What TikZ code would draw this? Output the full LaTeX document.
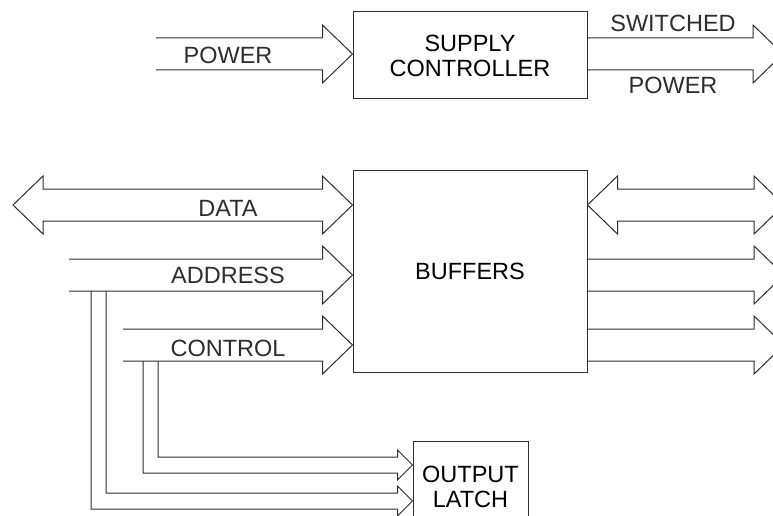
\documentclass[tikz,border=0pt]{standalone}
\usepackage{fontspec}
\setmainfont{Liberation Sans}
\usetikzlibrary{calc}
\definecolor{ink}{RGB}{45,45,45}

% wide bus arrow: open tail #1, tip #2 (both on the centre line)
\newcommand{\busR}[2]{%
  \draw[bus] ($(#1)+(0,-16)$) -- ($(#2)+(-30,-16)$) -- ($(#2)+(-30,-29)$) -- (#2)
    -- ($(#2)+(-30,29)$) -- ($(#2)+(-30,16)$) -- ($(#1)+(0,16)$);}
% wide bus arrow with heads at both ends
\newcommand{\busLR}[2]{%
  \draw[bus] (#1) -- ($(#1)+(30,-29)$) -- ($(#1)+(30,-16)$) -- ($(#2)+(-30,-16)$)
    -- ($(#2)+(-30,-29)$) -- (#2) -- ($(#2)+(-30,29)$) -- ($(#2)+(-30,16)$)
    -- ($(#1)+(30,16)$) -- ($(#1)+(30,29)$) -- cycle;}

\begin{document}
\begin{tikzpicture}[x=1pt,y=-1pt,font=\fontsize{23.5}{25}\selectfont,
  bus/.style={draw=ink,line width=1pt,line join=miter},
  blk/.style={draw=ink,line width=1pt,align=center,inner sep=0pt},
  lbl/.style={inner sep=0pt,text=ink}]
  \useasboundingbox (0,0) rectangle (773,516);
  \clip (0,0) rectangle (773,516);

  % blocks
  \node[blk,minimum width=234pt,minimum height=87pt] (supply) at (470,55.5) {SUPPLY\\CONTROLLER};
  \node[blk,minimum width=234pt,minimum height=202pt] (buf) at (470,271) {BUFFERS};
  \node[blk,minimum width=115pt,minimum height=91pt] (latch) at (470.5,486.5) {OUTPUT\\LATCH};

  % ends of the buses
  \coordinate (pwrT) at (156,54);
  \coordinate (pwrH) at (supply.west |- pwrT);
  \coordinate (swT) at (supply.east |- pwrT);
  \coordinate (swH) at (783,54);
  \coordinate (dataL) at (13,205);
  \coordinate (dataR) at (buf.west |- dataL);
  \coordinate (adrT) at (69,275);
  \coordinate (adrH) at (buf.west |- adrT);
  \coordinate (ctlT) at (123,345);
  \coordinate (ctlH) at (buf.west |- ctlT);
  \coordinate (bdL) at (buf.east |- dataL);
  \coordinate (bdR) at (784,205);
  \coordinate (oAT) at (buf.east |- adrT);
  \coordinate (oAH) at (784,275);
  \coordinate (oCT) at (buf.east |- ctlT);
  \coordinate (oCH) at (784,345);

  \busR{pwrT}{pwrH}
  \busR{swT}{swH}
  \busLR{dataL}{dataR}
  \busR{adrT}{adrH}
  \busR{ctlT}{ctlH}
  \busLR{bdL}{bdR}
  \busR{oAT}{oAH}
  \busR{oCT}{oCH}

  % taps down to the output latch
  \coordinate (ltA) at (latch.west |- 0,501);
  \coordinate (ltC) at (latch.west |- 0,465);
  \draw[bus] (91,291) |- ($(ltA)+(-15,8)$) -- ($(ltA)+(-15,15)$) -- (ltA)
    -- ($(ltA)+(-15,-15)$) -- ($(ltA)+(-15,-8)$) -| (106,291);
  \draw[bus] (143,361) |- ($(ltC)+(-15,8)$) -- ($(ltC)+(-15,15)$) -- (ltC)
    -- ($(ltC)+(-15,-15)$) -- ($(ltC)+(-15,-8)$) -| (158,361);

  % labels
  \node[lbl] (pwrlbl) at (228,55) {POWER};
  \node[lbl] (swlbl) at (673,23) {SWITCHED};
  \node[lbl] (swlbl2) at (673,85) {POWER};
  \node[lbl] (datalbl) at (228,208) {DATA};
  \node[lbl] (adrlbl) at (228,275) {ADDRESS};
  \node[lbl] (ctllbl) at (228,348) {CONTROL};
\end{tikzpicture}
\end{document}
